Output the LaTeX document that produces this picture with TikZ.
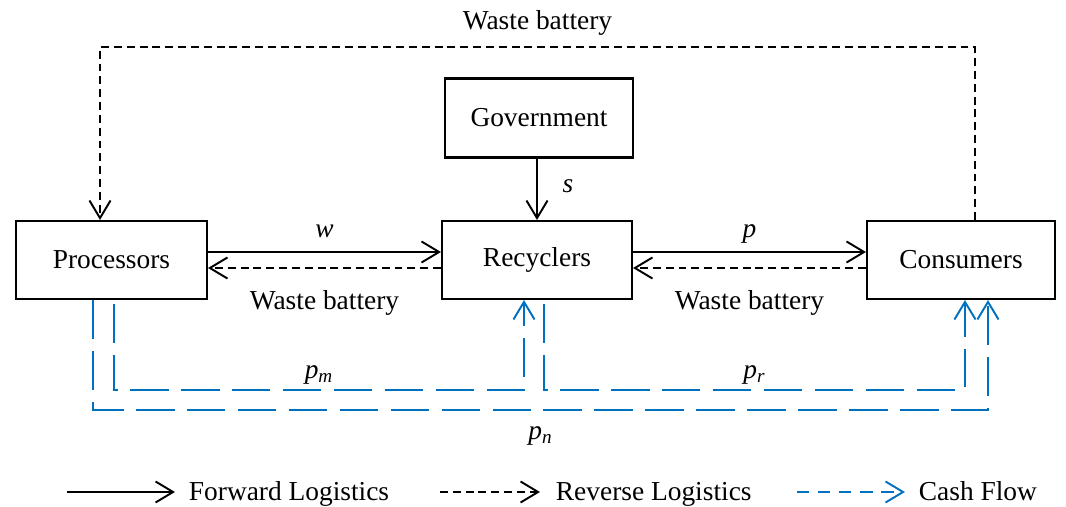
\documentclass[tikz,border=0pt]{standalone}
\usepackage{fontspec}
\setmainfont{Liberation Serif}
\usetikzlibrary{arrows.meta}
\definecolor{cashblue}{RGB}{0,112,192}
\tikzset{mybox/.style={draw,line width=1.2pt,minimum width=3.82cm,minimum height=1.56cm,inner sep=0pt}}
\tikzset{fwd/.style={black,line width=1.1pt,-{Straight Barb[length=10pt,width=12pt]}}}
\tikzset{rev/.style={fwd,dash pattern=on 4.5pt off 2.8pt}}
\tikzset{cash/.style={fwd,cashblue,dash pattern=on 22pt off 7pt}}
\tikzset{mylabel/.style={inner sep=0pt,text=black,anchor=base}}
\tikzset{legendtext/.style={anchor=base west,inner sep=0pt,text=black,yshift=-5pt}}

\begin{document}
\begin{tikzpicture}[x=0.02cm,y=-0.02cm,font=\fontsize{15.6}{18}\selectfont]
	\useasboundingbox (0,0) rectangle (1066,507);

	\node[mybox] (proc) at (111.5,260) {Processors};
	\node[mybox,minimum width=3.8cm] (rec) at (537,260) {Recyclers};
	\node[mybox,minimum width=3.76cm] (cons) at (961,260) {Consumers};
	\node[mybox,minimum width=3.76cm,minimum height=1.58cm] (gov) at (539,118) {Government};

	\draw[fwd] (gov.south -| rec.north) -- (rec.north) node[inner sep=0pt,pos=0.45,right=14pt] {\textit{s}};

	\draw[fwd] ([yshift=0.16cm]proc.east) -- ([yshift=0.16cm]rec.west) node[mylabel,midway,yshift=8.5pt] {\textit{w}};
	\draw[rev] ([yshift=-0.16cm]rec.west) -- ([yshift=-0.16cm]proc.east) node[inner sep=0pt,midway,below=12pt] {Waste battery};
	\draw[fwd] ([yshift=0.16cm]rec.east) -- ([yshift=0.16cm]cons.west) node[mylabel,midway,yshift=8.5pt] {\textit{p}};
	\draw[rev] ([yshift=-0.16cm]cons.west) -- ([yshift=-0.16cm]rec.east) node[inner sep=0pt,midway,below=12pt] {Waste battery};

	% waste battery back to the processors
	\draw[rev] ([xshift=0.28cm]cons.north) -- ++(0,3.46cm) -| ([xshift=-0.23cm]proc.north)
		node[mylabel,pos=0.25,yshift=10pt] {Waste battery};

	% cash flow
	\draw[cash] ([xshift=0.05cm,yshift=-0.08cm]proc.south) -- ++(0,-1.72cm) -| ([xshift=-0.26cm]rec.south)
		node[mylabel,pos=0.25,yshift=6.5pt] {\textit{p}\textsubscript{\textit{m}}};
	\draw[cash] ([xshift=0.14cm,yshift=-0.08cm]rec.south) -- ++(0,-1.72cm) -| ([xshift=0.08cm]cons.south)
		node[mylabel,pos=0.25,yshift=6.5pt] {\textit{p}\textsubscript{\textit{r}}};
	\draw[cash] ([xshift=-0.37cm]proc.south) -- ++(0,-2.2cm) -| ([xshift=0.54cm]cons.south)
		node[mylabel,pos=0.25,yshift=-17pt] {\textit{p}\textsubscript{\textit{n}}};

	% legend
	\coordinate (l1) at (67,492);
	\coordinate (l2) at (440,492);
	\coordinate (l3) at (797,492);
	\draw[fwd] (l1) -- ++(2.16cm,0) node[legendtext,xshift=0.26cm] {Forward Logistics};
	\draw[rev] (l2) -- ++(2.0cm,0) node[legendtext,xshift=0.3cm] {Reverse Logistics};
	\draw[cash,dash pattern=on 7pt off 5pt] (l3) -- ++(2.16cm,0) node[legendtext,xshift=0.26cm] {Cash Flow};
\end{tikzpicture}
\end{document}
